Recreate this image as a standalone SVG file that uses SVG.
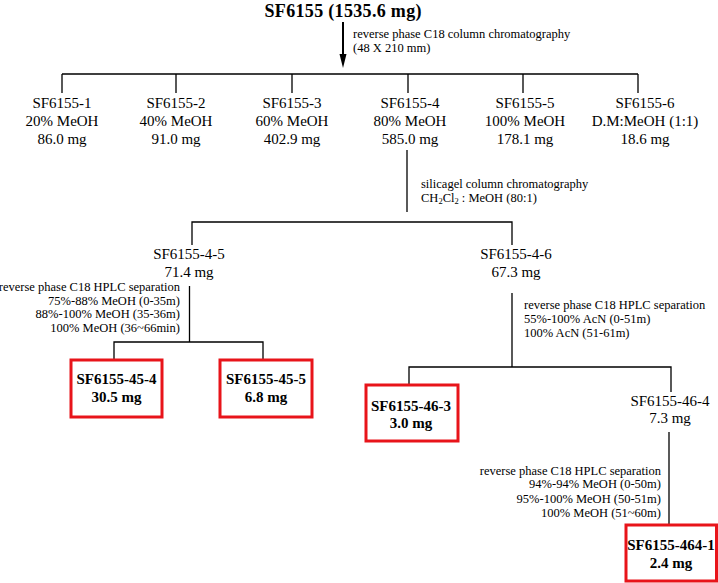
<svg xmlns="http://www.w3.org/2000/svg" width="718" height="583" viewBox="0 0 718 583">
<style>
text{font-family:"Liberation Serif","Times New Roman",serif;fill:#000}
.n{font-size:15px;text-anchor:middle}
.s{font-size:12.5px}
.r{text-anchor:end}
.b{font-size:15px;font-weight:bold;text-anchor:middle}
.ln{stroke:#000;stroke-width:1.3;fill:none}
.box{fill:#fff;stroke:#e8141a;stroke-width:3}
</style>
<rect width="718" height="583" fill="#fff"/>
<g id="connectors">
<line x1="343" y1="22" x2="343" y2="56" stroke="#000" stroke-width="2"/>
<polygon points="339.5,54 346.5,54 343,68" fill="#000"/>
<path class="ln" d="M62,74H638M62,74V93M176,74V93M292,74V93M408,74V93M523,74V93M638,74V93"/>
<path class="ln" d="M407,150V212"/>
<path class="ln" d="M192,245V222H512V245"/>
<path class="ln" d="M189.5,286V342M114,363V342H263V363"/>
<path class="ln" d="M512,293V367M409,391V367H671V392"/>
<path class="ln" d="M669,432V525"/>
</g>
<g id="root"><text x="343" y="17" font-size="18" font-weight="bold" text-anchor="middle" textLength="157" lengthAdjust="spacing">SF6155 (1535.6 mg)</text></g>
<g id="label-c18"><text class="s" x="353" y="38">reverse phase C18 column chromatography</text><text class="s" x="353" y="52">(48 X 210 mm)</text></g>
<g id="n1"><text class="n" x="62" y="108">SF6155-1</text><text class="n" x="62" y="126">20% MeOH</text><text class="n" x="62" y="144">86.0 mg</text></g>
<g id="n2"><text class="n" x="176" y="108">SF6155-2</text><text class="n" x="176" y="126">40% MeOH</text><text class="n" x="176" y="144">91.0 mg</text></g>
<g id="n3"><text class="n" x="292" y="108">SF6155-3</text><text class="n" x="292" y="126">60% MeOH</text><text class="n" x="292" y="144">402.9 mg</text></g>
<g id="n4"><text class="n" x="410" y="108">SF6155-4</text><text class="n" x="410" y="126">80% MeOH</text><text class="n" x="410" y="144">585.0 mg</text></g>
<g id="n5"><text class="n" x="525" y="108">SF6155-5</text><text class="n" x="525" y="126">100% MeOH</text><text class="n" x="525" y="144">178.1 mg</text></g>
<g id="n6"><text class="n" x="645" y="108">SF6155-6</text><text class="n" x="645" y="126">D.M:MeOH (1:1)</text><text class="n" x="645" y="144">18.6 mg</text></g>
<g id="label-silica"><text class="s" x="421" y="188">silicagel column chromatography</text><text class="s" x="421" y="202">CH<tspan font-size="8.5" dy="2">2</tspan><tspan dy="-2">Cl</tspan><tspan font-size="8.5" dy="2">2</tspan><tspan dy="-2"> : MeOH (80:1)</tspan></text></g>
<g id="n45"><text class="n" x="189" y="259">SF6155-4-5</text><text class="n" x="189" y="277">71.4 mg</text></g>
<g id="n46"><text class="n" x="516" y="259">SF6155-4-6</text><text class="n" x="516" y="277">67.3 mg</text></g>
<g id="label-hplc1"><text class="s r" x="180" y="291">reverse phase C18 HPLC separation</text><text class="s r" x="180" y="305">75%-88% MeOH (0-35m)</text><text class="s r" x="180" y="318">88%-100% MeOH (35-36m)</text><text class="s r" x="180" y="332">100% MeOH (36~66min)</text></g>
<g id="label-hplc2"><text class="s" x="524" y="309">reverse phase C18 HPLC separation</text><text class="s" x="524" y="323">55%-100% AcN (0-51m)</text><text class="s" x="524" y="337">100% AcN (51-61m)</text></g>
<g id="n454"><rect class="box" x="71" y="360" width="91" height="57"/><text class="b" x="116.5" y="384">SF6155-45-4</text><text class="b" x="116.5" y="402">30.5 mg</text></g>
<g id="n455"><rect class="box" x="220" y="360" width="92" height="57"/><text class="b" x="266" y="384">SF6155-45-5</text><text class="b" x="266" y="402">6.8 mg</text></g>
<g id="n463"><rect class="box" x="366" y="385" width="92" height="56"/><text class="b" x="411" y="411">SF6155-46-3</text><text class="b" x="411" y="428">3.0 mg</text></g>
<g id="n464"><text class="n" x="670" y="406">SF6155-46-4</text><text class="n" x="670" y="423">7.3 mg</text></g>
<g id="label-hplc3"><text class="s r" x="661" y="475">reverse phase C18 HPLC separation</text><text class="s r" x="661" y="488">94%-94% MeOH (0-50m)</text><text class="s r" x="661" y="503">95%-100% MeOH (50-51m)</text><text class="s r" x="661" y="517">100% MeOH (51~60m)</text></g>
<g id="n4641"><rect class="box" x="626" y="525" width="90.5" height="56"/><text class="b" x="671" y="550">SF6155-464-1</text><text class="b" x="671" y="568">2.4 mg</text></g>
</svg>
